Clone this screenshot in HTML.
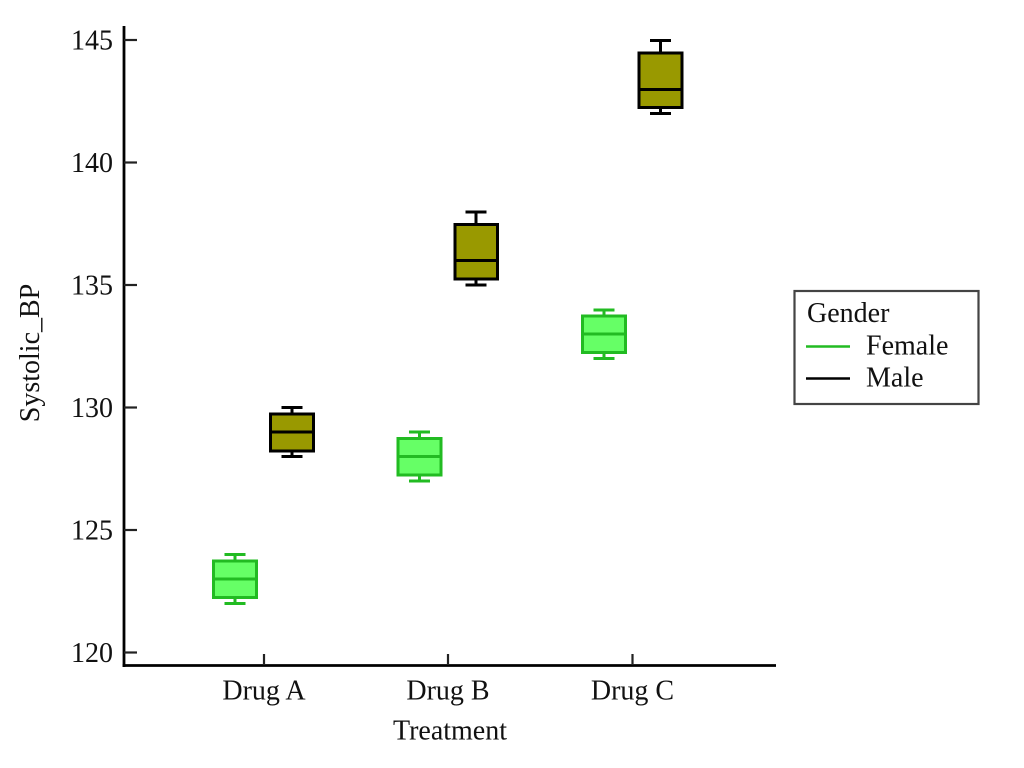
<!DOCTYPE html>
<html>
<head>
<meta charset="utf-8">
<style>
html,body{margin:0;padding:0;background:#fff;}
svg{display:block;}
text{font-family:"Liberation Serif","Times New Roman",serif;fill:#111;}
</style>
</head>
<body>
<svg width="1024" height="768" viewBox="0 0 1024 768" xmlns="http://www.w3.org/2000/svg">
<rect width="1024" height="768" fill="#fff"/>
<!-- axes -->
<line x1="124" y1="26" x2="124" y2="667" stroke="#000" stroke-width="2.8"/>
<line x1="122.6" y1="665.5" x2="776" y2="665.5" stroke="#000" stroke-width="2.8"/>
<!-- y ticks -->
<g stroke="#222" stroke-width="2.2">
<line x1="124" y1="40" x2="137" y2="40"/>
<line x1="124" y1="162.5" x2="137" y2="162.5"/>
<line x1="124" y1="285" x2="137" y2="285"/>
<line x1="124" y1="407.5" x2="137" y2="407.5"/>
<line x1="124" y1="530" x2="137" y2="530"/>
<line x1="124" y1="652.5" x2="137" y2="652.5"/>
</g>
<g font-size="28" text-anchor="end">
<text x="113" y="49.5">145</text>
<text x="113" y="172">140</text>
<text x="113" y="294.5">135</text>
<text x="113" y="417">130</text>
<text x="113" y="539.5">125</text>
<text x="113" y="662">120</text>
</g>
<!-- x ticks -->
<g stroke="#222" stroke-width="2.2">
<line x1="264" y1="654" x2="264" y2="665"/>
<line x1="448" y1="654" x2="448" y2="665"/>
<line x1="632.5" y1="654" x2="632.5" y2="665"/>
</g>
<g font-size="28" text-anchor="middle">
<text x="264" y="699.5">Drug A</text>
<text x="448" y="699.5">Drug B</text>
<text x="632.5" y="699.5">Drug C</text>
<text x="450" y="739.5">Treatment</text>
</g>
<text font-size="28" text-anchor="middle" transform="translate(39,353) rotate(-90)">Systolic_BP</text>

<!-- Female boxes -->
<g stroke="#22bb22" stroke-width="3" fill="#66ff66">
<line x1="235" y1="554.5" x2="235" y2="562.5"/>
<line x1="224.5" y1="554.5" x2="245.5" y2="554.5"/>
<line x1="235" y1="597" x2="235" y2="603.5"/>
<line x1="224.5" y1="603.5" x2="245.5" y2="603.5"/>
<rect x="213.5" y="561" width="43" height="36.5"/>
<line x1="213.5" y1="579" x2="256.5" y2="579"/>
<line x1="419.5" y1="432" x2="419.5" y2="438.5"/>
<line x1="409" y1="432" x2="430" y2="432"/>
<line x1="419.5" y1="475" x2="419.5" y2="481"/>
<line x1="409" y1="481" x2="430" y2="481"/>
<rect x="398" y="438.5" width="43" height="36.5"/>
<line x1="398" y1="456.5" x2="441" y2="456.5"/>
<line x1="604" y1="310" x2="604" y2="316"/>
<line x1="593.5" y1="310" x2="614.5" y2="310"/>
<line x1="604" y1="353" x2="604" y2="358.5"/>
<line x1="593.5" y1="358.5" x2="614.5" y2="358.5"/>
<rect x="582.5" y="316" width="43" height="36.5"/>
<line x1="582.5" y1="334" x2="625.5" y2="334"/>
</g>

<!-- Male boxes -->
<g stroke="#000" stroke-width="3" fill="#999900">
<line x1="292" y1="407.5" x2="292" y2="414"/>
<line x1="281.5" y1="407.5" x2="302.5" y2="407.5"/>
<line x1="292" y1="451" x2="292" y2="456.5"/>
<line x1="281.5" y1="456.5" x2="302.5" y2="456.5"/>
<rect x="270.5" y="414" width="43" height="37"/>
<line x1="270.5" y1="432" x2="313.5" y2="432"/>
<line x1="476" y1="212" x2="476" y2="224.5"/>
<line x1="465.5" y1="212" x2="486.5" y2="212"/>
<line x1="476" y1="279" x2="476" y2="285"/>
<line x1="465.5" y1="285" x2="486.5" y2="285"/>
<rect x="455" y="224.5" width="42.5" height="54.5"/>
<line x1="455" y1="260.5" x2="497.5" y2="260.5"/>
<line x1="660.5" y1="40.5" x2="660.5" y2="53"/>
<line x1="650" y1="40.5" x2="671" y2="40.5"/>
<line x1="660.5" y1="107.5" x2="660.5" y2="113.5"/>
<line x1="650" y1="113.5" x2="671" y2="113.5"/>
<rect x="639" y="53" width="43" height="54.5"/>
<line x1="639" y1="89.5" x2="682" y2="89.5"/>
</g>

<!-- Legend -->
<rect x="794.5" y="291" width="184" height="113" fill="#fff" stroke="#444" stroke-width="2.2"/>
<text x="807" y="322" font-size="28">Gender</text>
<line x1="806" y1="346.5" x2="850" y2="346.5" stroke="#22bb22" stroke-width="2.5"/>
<text x="866" y="354.5" font-size="28">Female</text>
<line x1="806" y1="378.5" x2="850" y2="378.5" stroke="#000" stroke-width="2.5"/>
<text x="866" y="386.5" font-size="28">Male</text>
</svg>
</body>
</html>
